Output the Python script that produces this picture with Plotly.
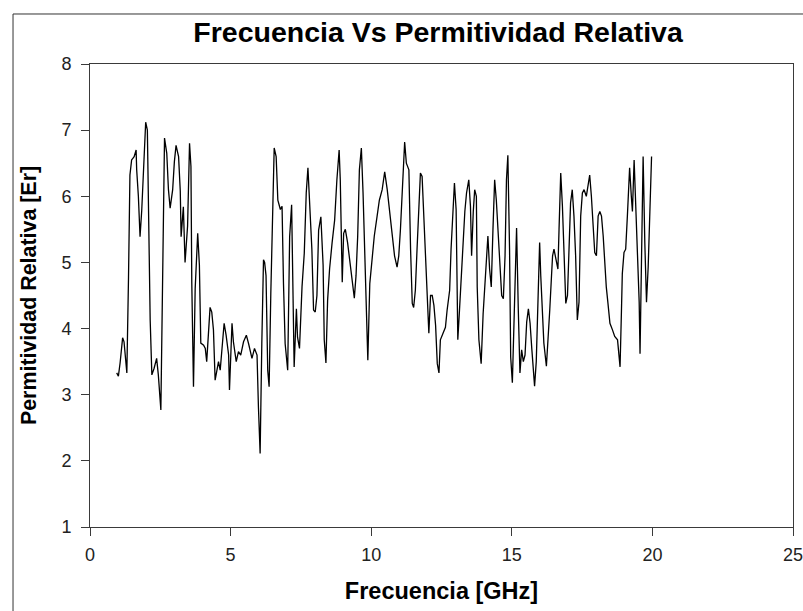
import plotly.graph_objects as go

# Frequency values (GHz)
frecuencia = [
    0.95, 1.01, 1.07, 1.16, 1.21, 1.25, 1.31, 1.37, 1.42, 1.48, 1.57, 1.64, 1.66, 1.72, 1.78, 1.84, 1.90, 1.98, 2.04, 2.08,
    2.14, 2.20, 2.28, 2.37, 2.43, 2.52, 2.59, 2.65, 2.73, 2.79, 2.85, 2.94, 3.00, 3.06, 3.15, 3.21, 3.24, 3.32, 3.38, 3.47,
    3.54, 3.59, 3.62, 3.68, 3.74, 3.83, 3.89, 3.94, 4.04, 4.10, 4.15,
    4.27, 4.33, 4.39, 4.45, 4.57, 4.63, 4.69, 4.77, 4.84, 4.93, 4.96, 5.05, 5.10, 5.20, 5.28, 5.36, 5.46, 5.56, 5.64, 5.76,
    5.85, 5.94, 5.99, 6.05, 6.11, 6.17, 6.21, 6.26, 6.32, 6.37, 6.43, 6.49, 6.55, 6.62, 6.68, 6.77, 6.83, 6.88, 6.94, 7.03,
    7.10, 7.17,
    7.22, 7.26, 7.34, 7.38, 7.45, 7.54, 7.62, 7.69, 7.75, 7.81, 7.89, 7.95, 8.01, 8.07, 8.13, 8.21, 8.29, 8.33, 8.39, 8.45,
    8.52, 8.61, 8.70, 8.78, 8.86, 8.90, 8.94, 8.97, 9.02, 9.08, 9.16, 9.24, 9.32, 9.40, 9.46, 9.52, 9.58, 9.65, 9.71, 9.77,
    9.83, 9.88, 9.95, 10.03, 10.11, 10.21, 10.29, 10.39, 10.48, 10.57, 10.64,
    10.69, 10.74, 10.83, 10.92, 10.98, 11.04, 11.10, 11.16, 11.19, 11.25, 11.34, 11.40, 11.46, 11.51, 11.57, 11.63, 11.69,
    11.75, 11.81, 11.87, 11.93, 11.99, 12.05, 12.11, 12.17, 12.23, 12.29, 12.35, 12.41, 12.46, 12.56, 12.64, 12.70, 12.79,
    12.84, 12.90, 12.96, 13.02, 13.08, 13.14, 13.20, 13.27, 13.33, 13.39, 13.47, 13.53, 13.57, 13.63, 13.68, 13.74,
    13.77, 13.83, 13.91, 13.98, 14.04, 14.10, 14.15, 14.21, 14.27, 14.33, 14.39, 14.45, 14.51, 14.58, 14.64, 14.70, 14.76,
    14.81, 14.86, 14.92, 14.96, 15.02, 15.08, 15.14, 15.17, 15.23, 15.29, 15.35, 15.41, 15.47, 15.53, 15.59, 15.65, 15.71,
    15.76, 15.81, 15.87, 15.93, 15.99, 16.03, 16.09, 16.14, 16.23, 16.29, 16.35, 16.41, 16.45, 16.50, 16.56, 16.64, 16.68,
    16.74,
    16.80, 16.86, 16.92, 16.98, 17.03, 17.09, 17.15, 17.21, 17.27, 17.33, 17.39, 17.45, 17.51, 17.57, 17.65, 17.71, 17.77,
    17.83, 17.89, 17.95, 18.01, 18.07, 18.13, 18.19, 18.25, 18.30, 18.36, 18.42, 18.49, 18.58, 18.66, 18.76, 18.82, 18.85,
    18.90, 18.93, 18.99, 19.05, 19.11, 19.15, 19.19, 19.25, 19.29, 19.35, 19.41, 19.47, 19.53, 19.56, 19.61, 19.67, 19.73,
    19.79, 19.85, 19.91, 19.97,
]

# Relative permittivity values
permitividad = [
    3.33, 3.28, 3.48, 3.86, 3.80, 3.60, 3.33, 4.78, 6.32, 6.55, 6.60, 6.70, 6.40, 6.00, 5.39, 5.79, 6.32, 7.12, 7.00, 5.82,
    4.13, 3.30, 3.40, 3.55, 3.30, 2.77, 5.37, 6.88, 6.65, 6.10, 5.82, 6.10, 6.52, 6.77, 6.60, 6.08, 5.39, 5.84, 5.00, 5.55,
    6.80, 6.45, 4.69, 3.12, 4.60, 5.44, 4.96, 3.78, 3.75, 3.70, 3.50,
    4.32, 4.25, 3.98, 3.22, 3.50, 3.37, 3.70, 4.08, 3.90, 3.60, 3.07, 4.08, 3.80, 3.50, 3.65, 3.60, 3.80, 3.90, 3.77, 3.55,
    3.70, 3.60, 2.81, 2.11, 3.77, 5.04, 5.00, 4.80, 3.37, 3.12, 4.53, 5.69, 6.73, 6.60, 5.94, 5.80, 5.85, 4.69, 3.77, 3.37,
    5.39, 5.87,
    4.17, 3.42, 4.30, 3.87, 3.70, 4.63, 5.14, 6.05, 6.43, 5.84, 5.20, 4.28, 4.25, 4.50, 5.49, 5.69, 4.96, 3.83, 3.48, 4.43,
    4.90, 5.30, 5.64, 6.25, 6.70, 6.25, 5.44, 4.70, 5.44, 5.50, 5.30, 5.00, 4.66, 4.46, 4.80, 5.40, 6.40, 6.73, 6.05, 5.20,
    4.28, 3.52, 4.68, 5.08, 5.40, 5.70, 5.94, 6.10, 6.37, 6.10, 5.80,
    5.70, 5.44, 5.10, 4.93, 5.10, 5.50, 6.05, 6.65, 6.82, 6.50, 6.40, 5.20, 4.38, 4.32, 4.58, 5.20, 5.85,
    6.35, 6.30, 5.70, 4.96, 4.30, 3.93, 4.50, 4.50, 4.35, 4.05, 3.47, 3.33, 3.83, 3.93, 4.02, 4.28, 4.58,
    5.20, 5.70, 6.20, 5.80, 3.83, 4.28, 4.78, 5.15, 5.77, 6.05, 6.25, 5.85, 5.10, 5.77, 6.10, 6.00,
    4.63, 3.83, 3.47, 4.22, 4.70, 5.10, 5.40, 4.90, 4.63, 5.50, 6.25, 5.94, 5.50, 5.10, 4.50, 4.45, 5.10,
    6.25, 6.62, 5.20, 3.57, 3.18, 4.02, 5.15, 5.52, 4.30, 3.33, 3.68, 3.50, 3.60, 4.10, 4.30, 4.08, 3.70,
    3.33, 3.13, 3.50, 4.63, 5.30, 4.80, 4.08, 3.78, 3.43, 3.78, 4.28, 4.78, 5.10, 5.20, 5.05, 4.90, 5.50,
    6.35,
    5.85, 5.00, 4.38, 4.50, 5.15, 5.90, 6.10, 5.70, 5.10, 4.13, 4.40, 5.70, 6.05, 6.10, 6.00, 6.20, 6.32,
    6.00, 5.60, 5.15, 5.10, 5.70, 5.77, 5.70, 5.40, 5.00, 4.63, 4.38, 4.08, 3.98, 3.88, 3.83, 3.60, 3.42,
    4.28, 4.83, 5.15, 5.20, 5.70, 6.20, 6.43, 6.00, 5.77, 6.55, 5.77, 4.95, 4.40, 3.62, 4.90, 6.60, 5.30,
    4.40, 4.93, 5.70, 6.60,
]

x_ticks = [0, 5, 10, 15, 20, 25]
y_ticks = [1, 2, 3, 4, 5, 6, 7, 8]

FONT = "Liberation Sans, Arial, sans-serif"
AXIS_COLOR = "#3a3a3a"

fig = go.Figure()
fig.add_trace(go.Scatter(
    x=frecuencia, y=permitividad, mode="lines",
    line=dict(color="black", width=1.3),
    showlegend=False, hoverinfo="x+y",
))

fig.update_layout(
    width=803, height=611,
    margin=dict(l=90, r=10, t=64, b=84, autoexpand=False),
    paper_bgcolor="white", plot_bgcolor="white",
    font=dict(family=FONT, color="black"),
    title=dict(
        text="<b>Frecuencia Vs Permitividad Relativa</b>",
        font=dict(family=FONT, size=28.5, color="black"),
        x=0.5455, xanchor="center", y=0.948, yanchor="middle",
    ),
    xaxis=dict(
        range=[0, 25], tickmode="array", tickvals=x_ticks,
        ticktext=[str(v) for v in x_ticks],
        showgrid=False, zeroline=False,
        showline=True, linecolor=AXIS_COLOR, linewidth=1, mirror=True,
        ticks="outside", ticklen=8, tickcolor=AXIS_COLOR, tickwidth=1,
        tickfont=dict(family=FONT, size=18, color="#222222"),
        ticklabelstandoff=3, ticklabeloverflow="allow",
        title=dict(text="<b>Frecuencia [GHz]</b>",
                   font=dict(family=FONT, size=23.5, color="black"),
                   standoff=18),
    ),
    yaxis=dict(
        range=[1, 8], tickmode="array", tickvals=y_ticks,
        ticktext=[str(v) for v in y_ticks],
        showgrid=False, zeroline=False,
        showline=True, linecolor=AXIS_COLOR, linewidth=1, mirror=True,
        ticks="outside", ticklen=8, tickcolor=AXIS_COLOR, tickwidth=1,
        tickfont=dict(family=FONT, size=18, color="#222222"),
        ticklabelstandoff=6, ticklabeloverflow="allow",
        title=dict(text="<b>Permitividad Relativa [Er]</b>",
                   font=dict(family=FONT, size=21.4, color="black"),
                   standoff=18),
    ),
    shapes=[
        dict(type="line", xref="paper", yref="paper",
             x0=-0.1095, x1=-0.1095, y0=1.108, y1=-0.3,
             line=dict(color="#333333", width=1)),
        dict(type="line", xref="paper", yref="paper",
             x0=-0.1095, x1=1.1, y0=1.108, y1=1.108,
             line=dict(color="#333333", width=1)),
    ],
)

fig.write_html("out.html")
